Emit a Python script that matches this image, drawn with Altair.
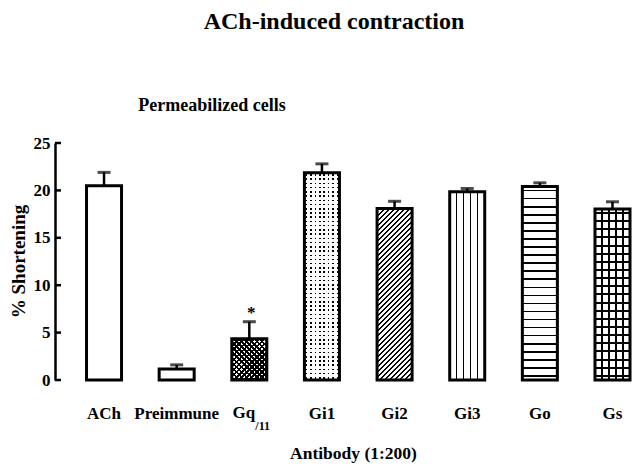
import math
import altair as alt
import pandas as pd

# ---------------- data ----------------
categories = ["ACh", "Preimmune", "Gq/11", "Gi1", "Gi2", "Gi3", "Go", "Gs"]
shortening = [20.5, 1.15, 4.35, 21.85, 18.1, 19.85, 20.4, 18.05]
sem = [1.4, 0.45, 1.8, 0.95, 0.75, 0.35, 0.4, 0.75]
significance = ["", "", "*", "", "", "", "", ""]
y_ticks = [0, 5, 10, 15, 20, 25]
y_domain = [0, 25]
title_text = "ACh-induced contraction"
subtitle_text = "Permeabilized cells"
x_title = "Antibody (1:200)"
y_title = "% Shortening"
gq_main, gq_sub = "Gq", "/11"
patterns = {"Gq/11": "crosshatch", "Gi1": "dots", "Gi2": "diagonal",
            "Gi3": "vlines", "Go": "hlines", "Gs": "grid"}

df = pd.DataFrame({"antibody": categories, "mean": shortening,
                   "sem": sem, "sig": significance})
df["upper"] = df["mean"] + df["sem"]

# ---------------- layout / style ----------------
FONT = "Liberation Serif"
PLOT_W, PLOT_H = 575, 237
PAD_IN, PAD_OUT = 0.518, 0.217
STEP = PLOT_W / (len(categories) - PAD_IN + 2 * PAD_OUT)
BAND = STEP * (1 - PAD_IN)
PPU = PLOT_H / (y_domain[1] - y_domain[0])
CLEAR = "rgba(255,255,255,0)"


def stops_from(centers, hw, line, bg):
    out = [(0.0, bg)]
    for c in sorted(centers):
        a, b = max(0.0, c - hw), min(1.0, c + hw)
        if b <= a:
            continue
        a = max(a, out[-1][0])
        out += [(a, bg), (a, line), (b, line), (b, bg)]
    out.append((1.0, bg))
    return [alt.GradientStop(offset=round(o, 5), color=c) for o, c in out]


def lin(x1, y1, x2, y2, stops):
    return alt.LinearGradient(gradient="linear", x1=x1, y1=y1, x2=x2, y2=y2, stops=stops)


def h_stripes(h_px, spacing, thick, line, bg):
    n = max(1, round(h_px / spacing))
    centers = [(k + 0.5) / n for k in range(n)]
    return lin(0, 0, 0, 1, stops_from(centers, thick / 2 / h_px, line, bg))


def v_stripes(w_px, centers, thick, line, bg):
    return lin(0, 0, 1, 0, stops_from(centers, thick / 2 / w_px, line, bg))


def d_stripes(w_px, h_px, spacing_h, thick, line, bg, rising=True):
    r = h_px / w_px
    dx = (1 + r) / (1 + r * r)
    dy = r * dx
    length = (w_px + h_px) / math.sqrt(2)
    n = max(1, round((w_px + h_px) / spacing_h))
    centers = [(k + 0.5) / n for k in range(n)]
    st = stops_from(centers, thick / 2 / length, line, bg)
    if rising:
        return lin(0, 0, round(dx, 5), round(dy, 5), st)
    return lin(0, 1, round(dx, 5), round(1 - dy, 5), st)


def pattern_fills(kind, h_px):
    w = BAND
    if kind == "hlines":
        return [h_stripes(h_px, 7.9, 1.6, "black", "white")]
    if kind == "vlines":
        return [v_stripes(w, [k / 5 for k in range(1, 5)], 1.5, "black", "white")]
    if kind == "grid":
        return [h_stripes(h_px, 8.0, 2.0, "black", "white"),
                v_stripes(w, [k / 5 for k in range(1, 5)], 2.0, "black", CLEAR)]
    if kind == "diagonal":
        return [d_stripes(w, h_px, 5.0, 1.4, "black", "white", rising=True)]
    if kind == "crosshatch":
        return [d_stripes(w, h_px, 5.0, 1.8, "black", "white", rising=True),
                d_stripes(w, h_px, 5.0, 1.8, "black", CLEAR, rising=False)]
    if kind == "dots":
        ncol = 8
        return [h_stripes(h_px, 4.2, 1.5, "black", "white"),
                v_stripes(w, [(k + 0.5) / ncol for k in range(ncol)], 1.5, CLEAR, "white")]
    return []


# ---------------- encodings ----------------
x_scale = alt.Scale(domain=categories, paddingInner=PAD_IN, paddingOuter=PAD_OUT, align=1)
y_scale = alt.Scale(domain=y_domain, nice=False, zero=True)

x_axis = alt.Axis(
    domain=False, ticks=False, grid=False, labelAngle=0,
    labelFont=FONT, labelFontSize=17, labelFontWeight="bold", labelColor="black",
    labelBaseline="alphabetic", labelPadding=38,
    labelExpr="datum.value == 'Gq/11' ? '' : datum.label",
    titleFont=FONT, titleFontSize=17.5, titleFontWeight="bold",
    titleColor="black", titleX=298, titleY=78, titleBaseline="alphabetic",
)
y_axis = alt.Axis(
    values=y_ticks, domain=True, domainColor="black", domainWidth=2.5,
    ticks=False, grid=False, labelPadding=5,
    labelFont=FONT, labelFontSize=17, labelFontWeight="bold", labelColor="black",
    titleFont=FONT, titleFontSize=19, titleFontWeight="bold",
    titleColor="black", titleAngle=270, titleX=-37, titleY=118,
    titleBaseline="middle", titleAlign="center",
)

X = alt.X("antibody:N", sort=categories, scale=x_scale, axis=x_axis, title=x_title)


def Yf(field):
    return alt.Y(field, scale=y_scale, axis=y_axis, title=y_title)


base = alt.Chart(df)
layers = [base.mark_bar(fill="white", strokeWidth=0).encode(x=X, y=Yf("mean:Q"))]

for cat, kind in patterns.items():
    h_px = shortening[categories.index(cat)] * PPU
    for fill in pattern_fills(kind, h_px):
        layers.append(
            base.transform_filter(alt.datum.antibody == cat)
            .mark_bar(fill=fill, strokeWidth=0)
            .encode(x=X, y=Yf("mean:Q"))
        )

layers.append(base.mark_bar(fillOpacity=0, stroke="black", strokeWidth=3).encode(
    x=X, y=Yf("mean:Q")))

# error bars (upper half only) with caps
layers.append(base.mark_rule(color="black", strokeWidth=2.5).encode(
    x=X, y=Yf("mean:Q"), y2="upper:Q"))
layers.append(base.mark_tick(color="black", thickness=3, size=13).encode(
    x=X, y=Yf("upper:Q")))

# significance star
layers.append(base.mark_text(font=FONT, fontSize=17, fontWeight="bold", color="black",
                             baseline="alphabetic", dy=-4, dx=2).encode(
    x=X, y=Yf("upper:Q"), text="sig:N"))

# inward y ticks
layers.append(alt.Chart(pd.DataFrame({"tick": y_ticks})).mark_rule(
    color="black", strokeWidth=2.5).encode(
    y=Yf("tick:Q"), x=alt.value(0), x2=alt.value(6)))

# Gq/11 label with subscript
gq = base.transform_filter(alt.datum.antibody == "Gq/11")
layers.append(gq.mark_text(font=FONT, fontSize=17, fontWeight="bold", color="black",
                           align="right", baseline="alphabetic", dx=6).encode(
    x=X, y=alt.value(PLOT_H + 38), text=alt.value(gq_main)))
layers.append(gq.mark_text(font=FONT, fontSize=12, fontWeight="bold", color="black",
                           align="left", baseline="alphabetic", dx=6).encode(
    x=X, y=alt.value(PLOT_H + 50), text=alt.value(gq_sub)))

# title and panel label
layers.append(alt.Chart(pd.DataFrame({"t": [title_text]})).mark_text(
    font=FONT, fontSize=24, fontWeight="bold", color="black",
    align="center", baseline="alphabetic").encode(
    text="t:N", x=alt.value(279), y=alt.value(-114)))
layers.append(alt.Chart(pd.DataFrame({"t": [subtitle_text]})).mark_text(
    font=FONT, fontSize=18, fontWeight="bold", color="black",
    align="center", baseline="alphabetic").encode(
    text="t:N", x=alt.value(157), y=alt.value(-32)))

chart = alt.layer(*layers).properties(
    width=PLOT_W, height=PLOT_H,
    autosize=alt.AutoSizeParams(type="none"),
    padding={"left": 47, "top": 135, "right": 2, "bottom": 84},
    background="white",
).configure_view(stroke=None)

chart.save("out.html", embed_options={"renderer": "svg", "actions": False})
